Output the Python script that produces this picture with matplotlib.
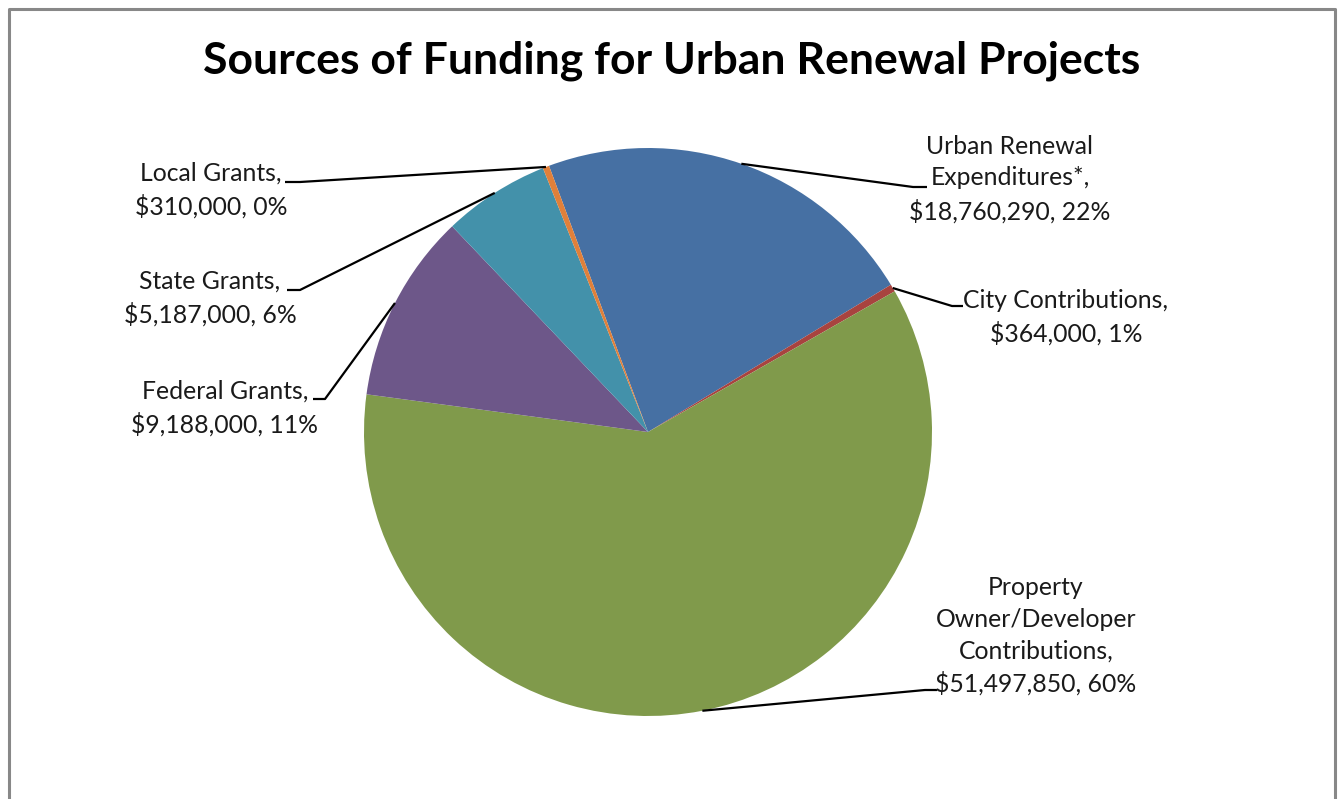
import matplotlib
matplotlib.use("Agg")
import matplotlib.pyplot as plt
import numpy as np

categories = ["Urban Renewal\nExpenditures*", "City Contributions",
              "Property\nOwner/Developer\nContributions", "Federal Grants",
              "State Grants", "Local Grants"]
values = [18760290, 364000, 51497850, 9188000, 5187000, 310000]
pct_labels = ["22%", "1%", "60%", "11%", "6%", "0%"]
colors = ["#4670A3", "#A8433F", "#809A4B", "#6D5789", "#4391AA", "#E0803A"]

W, H = 1341, 799
fig = plt.figure(figsize=(W / 100, H / 100), dpi=100)
ax = fig.add_axes([0, 0, 1, 1])

def Y(py):
    return H - py

cx, cy, r = 648, 432, 284
start = 110.4
wedges, _ = ax.pie(values, colors=colors, startangle=start, counterclock=False,
                   center=(cx, Y(cy)), radius=r, normalize=True,
                   wedgeprops=dict(edgecolor="none", linewidth=0))

ax.set_xlim(0, W)
ax.set_ylim(0, H)
ax.set_aspect("auto")
ax.set_axis_off()

# label layout: text center, leader break point
layout = [
    dict(tx=1010, ty=179, hx=(927, 913), hy=187),
    dict(tx=1066, ty=317, hx=(963, 952), hy=306),
    dict(tx=1036, ty=636, hx=(937, 925), hy=690),
    dict(tx=225, ty=408, hx=(313, 325), hy=399),
    dict(tx=210, ty=298, hx=(287, 300), hy=290),
    dict(tx=211, ty=190, hx=(285, 300), hy=182),
]

for w, cat, v, p, L in zip(wedges, categories, values, pct_labels, layout):
    mid = 0.5 * (w.theta1 + w.theta2)
    ex = cx + r * np.cos(np.radians(mid))
    ey = Y(cy) + r * np.sin(np.radians(mid))
    text = f"{cat},\n${v:,}, {p}"
    ax.text(L["tx"], Y(L["ty"]), text, ha="center", va="center", fontsize=17.8,
            family="Lato", color="#1a1a1a", linespacing=1.45)
    ax.plot([L["hx"][0], L["hx"][1], ex], [Y(L["hy"]), Y(L["hy"]), ey],
            color="black", lw=1.6, solid_capstyle="butt")

ax.text(672, Y(61), "Sources of Funding for Urban Renewal Projects", ha="center",
        va="center", fontsize=32, fontweight="bold", family="Lato", color="black")

# chart border
ax.plot([9, 9, 1335, 1335], [-5, Y(9), Y(9), -5], color="#888888", lw=2.2,
        clip_on=False)

fig.savefig("out.png", dpi=100, facecolor="white")
